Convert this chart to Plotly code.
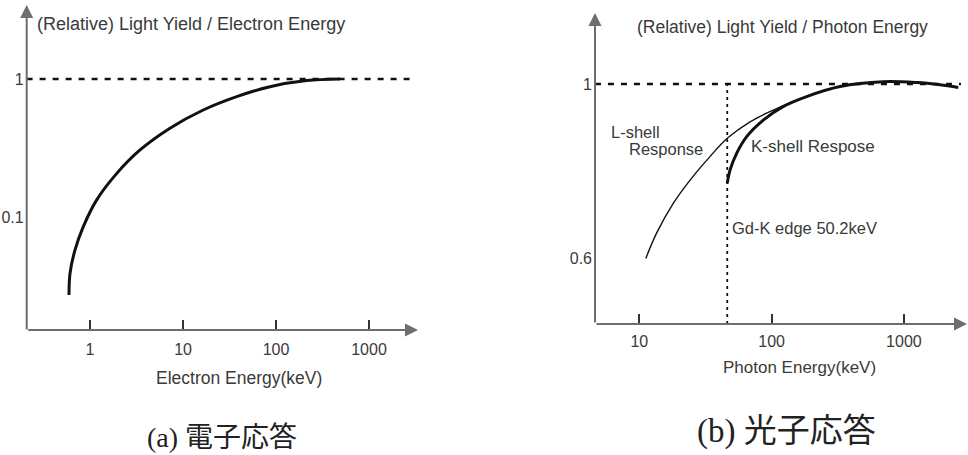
import plotly.graph_objects as go

W, H = 968, 455

# ---------- data ----------
# (a) electron response: energy keV vs relative light yield (log-log)
e_energy = [0.594, 0.61, 0.69, 0.847, 1.18, 1.94, 3.45, 7.24, 16.5, 37.8, 86.1, 214, 488]
e_yield = [0.0272, 0.0393, 0.0577, 0.0851, 0.133, 0.207, 0.306, 0.440, 0.596, 0.745, 0.879, 0.973, 1.0]

# (b) photon response
l_energy = [11.2, 13.5, 18.1, 24.2, 34.2, 46.2, 68.7, 103, 138]
l_yield = [0.599, 0.657, 0.726, 0.779, 0.833, 0.875, 0.913, 0.940, 0.956]
k_energy = [46.2, 48.5, 54.5, 64.8, 86.5, 122, 184, 329, 698, 1250, 1876, 2576]
k_yield = [0.772, 0.802, 0.841, 0.879, 0.917, 0.948, 0.971, 0.994, 1.005, 1.003, 0.998, 0.992]
gd_k_edge = 46.2

a_xticks = [1, 10, 100, 1000]
a_xticktext = ["1", "10", "100", "1000"]
a_yticks = [1, 0.1]
a_yticktext = ["1", "0.1"]
b_xticks = [10, 100, 1000]
b_xticktext = ["10", "100", "1000"]
b_yticks = [1, 0.6]
b_yticktext = ["1", "0.6"]

a_ref_x = [0.208, 3126]
a_ref_y = [1, 1]
b_ref_x = [4.62, 2700]
b_ref_y = [1, 1]
b_edge_y = [0.4483, 1.0]

FONT = "Arial, Liberation Sans, sans-serif"
TXT = "#3a3a3a"
AX = "#6e6e6e"

fig = go.Figure()

# panel (a)
fig.add_trace(go.Scatter(x=a_ref_x, y=a_ref_y, mode="lines",
                         line=dict(color="#111", width=2.5, dash="6px,7px"),
                         xaxis="x", yaxis="y", hoverinfo="skip"))
fig.add_trace(go.Scatter(x=e_energy, y=e_yield, mode="lines",
                         line=dict(color="#111", width=3, shape="spline"),
                         xaxis="x", yaxis="y"))

# panel (b)
fig.add_trace(go.Scatter(x=b_ref_x, y=b_ref_y, mode="lines",
                         line=dict(color="#111", width=2.5, dash="6px,7px"),
                         xaxis="x2", yaxis="y2", hoverinfo="skip"))
fig.add_trace(go.Scatter(x=[gd_k_edge, gd_k_edge], y=b_edge_y, mode="lines",
                         line=dict(color="#111", width=1.8, dash="3px,4px"),
                         xaxis="x2", yaxis="y2", hoverinfo="skip"))
fig.add_trace(go.Scatter(x=l_energy, y=l_yield, mode="lines",
                         line=dict(color="#111", width=1.4, shape="spline"),
                         xaxis="x2", yaxis="y2"))
fig.add_trace(go.Scatter(x=k_energy, y=k_yield, mode="lines",
                         line=dict(color="#111", width=3, shape="spline"),
                         xaxis="x2", yaxis="y2"))

def px(xp):
    return xp / W

def py(yp):
    return 1 - yp / H

def tf():
    return dict(family=FONT, size=16, color=TXT)

fig.update_layout(
    width=W, height=H,
    margin=dict(l=0, r=0, t=0, b=0),
    paper_bgcolor="white", plot_bgcolor="rgba(0,0,0,0)",
    showlegend=False,
    font=dict(family=FONT, color=TXT),
    xaxis=dict(type="log", domain=[px(26.7), px(418)], range=[-0.681, 3.527],
               anchor="y", showgrid=False, zeroline=False, showline=False,
               tickvals=a_xticks, ticktext=a_xticktext, ticks="inside",
               ticklen=10, tickwidth=1.6, tickcolor="#333", tickfont=tf(),
               ticklabelstandoff=8),
    yaxis=dict(type="log", domain=[py(330), py(5)], range=[-1.819, 0.536],
               anchor="x", showgrid=False, zeroline=False, showline=False,
               tickvals=a_yticks, ticktext=a_yticktext, ticks="",
               tickfont=tf(), ticklabelstandoff=2),
    xaxis2=dict(type="log", domain=[px(595), px(967)], range=[0.665, 3.477],
                anchor="y2", showgrid=False, zeroline=False, showline=False,
                tickvals=b_xticks, ticktext=b_xticktext, ticks="inside",
                ticklen=10, tickwidth=1.6, tickcolor="#333", tickfont=tf(),
                ticklabelstandoff=6),
    yaxis2=dict(domain=[py(324), py(13)], range=[0.4483, 1.163],
                anchor="x2", showgrid=False, zeroline=False, showline=False,
                tickvals=b_yticks, ticktext=b_yticktext, ticks="",
                tickfont=tf(), ticklabelstandoff=2),
)

ann = []
# axis lines with arrowheads
def arrow(x0, y0, x1, y1):
    ann.append(dict(xref="paper", yref="paper", x=px(x1), y=py(y1),
                    axref="pixel", ayref="pixel", ax=x0 - x1, ay=y0 - y1,
                    showarrow=True, arrowhead=2, arrowsize=1.3, arrowwidth=2,
                    arrowcolor=AX, text=""))

arrow(26.7, 331, 26.7, 5)
arrow(26.7, 330, 418, 330)
arrow(595, 324, 595, 13)
arrow(595, 324, 967, 324)

def label(text, x, y, size=17, xanchor="center", family=FONT, color=TXT):
    ann.append(dict(xref="paper", yref="paper", x=px(x), y=py(y), text=text,
                    showarrow=False, xanchor=xanchor, yanchor="middle",
                    font=dict(family=family, size=size, color=color)))

label("(Relative) Light Yield / Electron Energy", 191, 24, 18)
label("Electron Energy(keV)", 239, 378, 17.5)
label("(Relative) Light Yield / Photon Energy", 782, 27, 17.5)
label("Photon Energy(keV)", 799, 367, 17)
label("L-shell", 609, 132, 16.5, "left")
label("Response", 627, 149, 16.5, "left")
label("K-shell Respose", 749, 147, 17, "left")
label("Gd-K edge 50.2keV", 730, 228, 16.5, "left")

CAP = "Liberation Serif, Noto Sans CJK JP, serif"
label("(a) 電子応答", 222, 437, 28, family=CAP, color="#222")
label("(b) 光子応答", 786, 431, 33, family=CAP, color="#222")

fig.update_layout(annotations=ann)

fig.write_html("out.html")
